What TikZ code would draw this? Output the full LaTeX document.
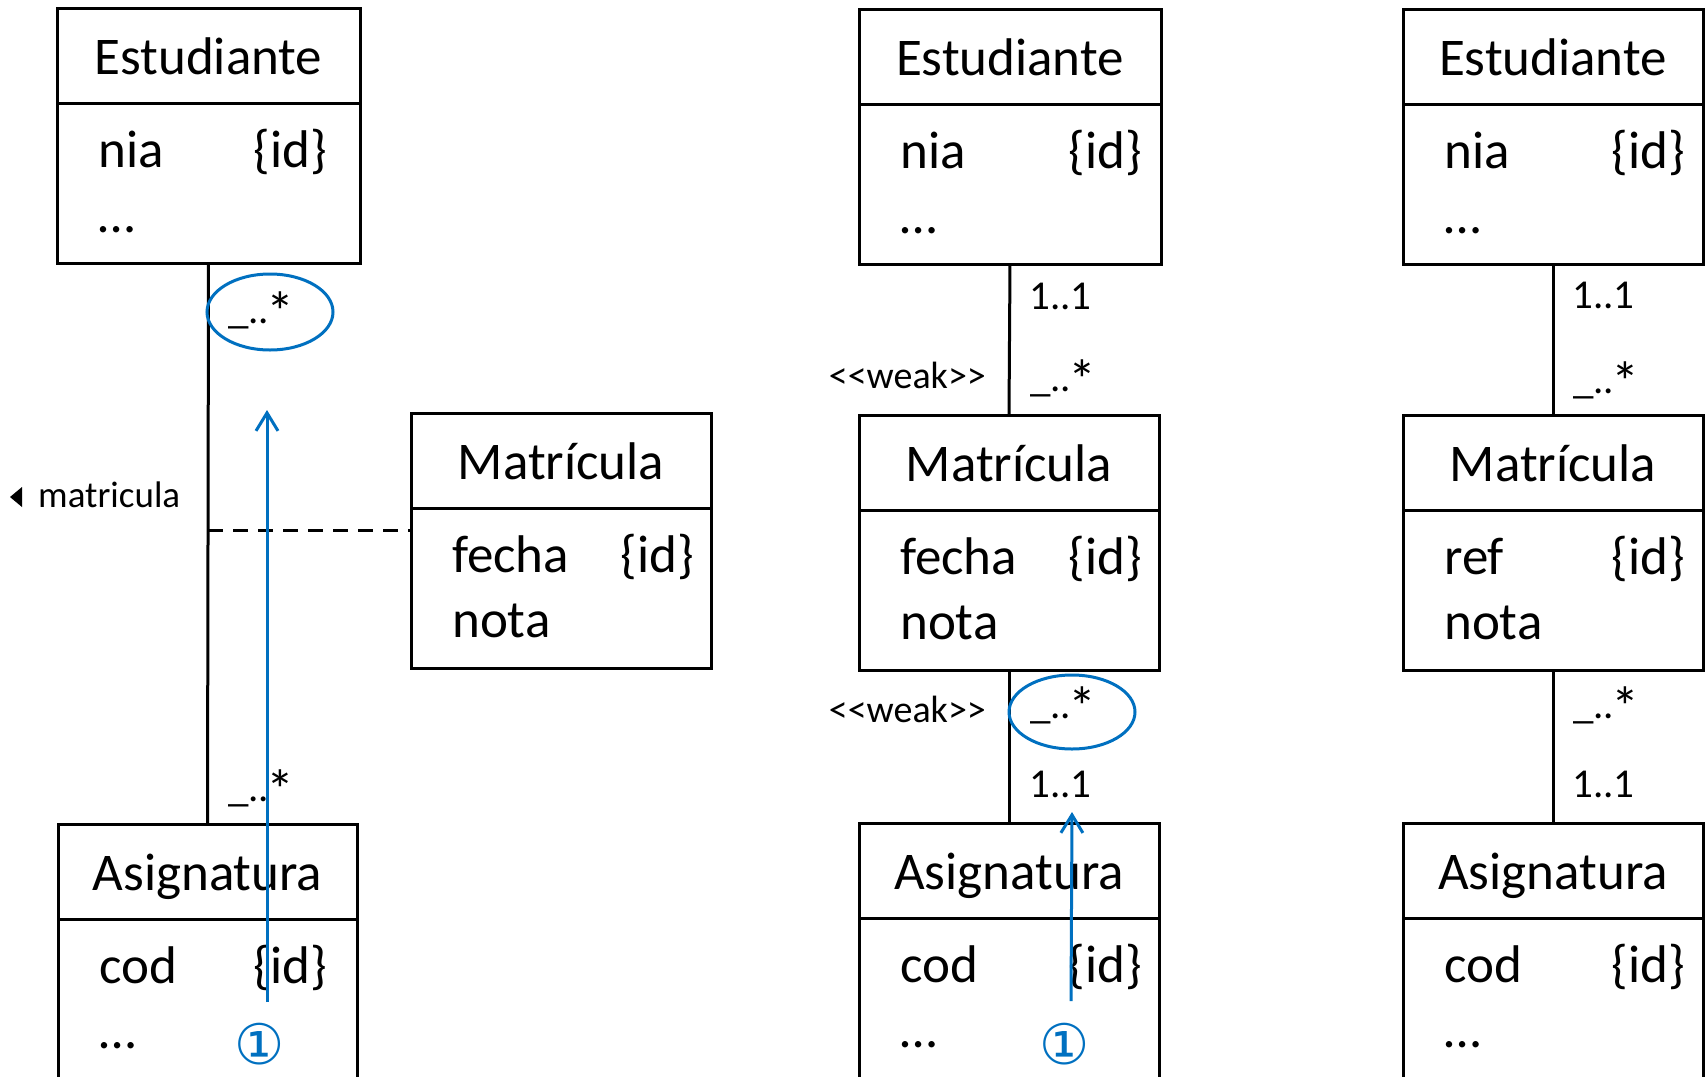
\documentclass[tikz,border=0pt]{standalone}
\usepackage{fontspec}
\setmainfont{Carlito}
\newfontfamily\dejavu{DejaVu Sans}
\usetikzlibrary{calc,arrows.meta,shapes.geometric}
\definecolor{umlblue}{RGB}{0,112,192}
\tikzset{
  hdr/.style={draw, line width=3pt, rectangle, inner sep=0pt, outer sep=0pt, minimum height=95pt,
    font=\fontsize{53}{60}\selectfont, text height=40pt, text depth=3pt},
  bodybox/.style={draw, line width=3pt, rectangle, inner sep=0pt, outer sep=0pt},
  attr/.style={inner sep=0pt, font=\fontsize{53}{60}\selectfont},
  mult/.style={inner sep=0pt, anchor=base west, font=\fontsize{41}{46}\selectfont},
  stereo/.style={inner sep=0pt, anchor=base east, font=\fontsize{38}{44}\selectfont},
  assoc/.style={line width=3pt},
  hlell/.style={draw=umlblue, line width=3pt, ellipse, inner sep=0pt},
  hlarrow/.style={draw=umlblue, line width=3pt, -{Straight Barb[length=18pt,width=22pt]}},
  circnum/.style={inner sep=0pt, anchor=base, text height=34pt, text depth=0pt, text=umlblue,
    font=\dejavu\fontsize{56}{60}\selectfont},
}
\newcommand\manyb{\_..\kern-3pt\raisebox{-8pt}{\fontsize{56}{60}\selectfont *}}
% #1 name, #2 x, #3 y, #4 width, #5 title, #6 attr1, #7 attr2, #8 body height, #9 id inset
\newcommand\classbox[9]{%
  \node[hdr, minimum width=#4pt, anchor=north west] (#1h) at (#2,#3) {#5};
  \node[bodybox, minimum width=#4pt, minimum height=#8pt, anchor=north] (#1b) at (#1h.south) {};
  \node[attr, anchor=base west] (#1a) at ($(#1b.north west)+(41,64)$) {#6};
  \node[attr, anchor=base east] (#1i) at ($(#1b.north east)+(-#9,64)$) {\{id\}};
  \node[attr, anchor=base west] (#1c) at ($(#1b.north west)+(41,129)$) {#7};
}
\begin{document}
\begin{tikzpicture}[x=1pt,y=-1pt]
\useasboundingbox (0,0) rectangle (1705,1076);
% left column
\classbox{ea}{57}{8}{303}{Estudiante}{nia}{…}{160}{33}
\classbox{ma}{411}{413}{300}{Matrícula}{fecha}{nota}{160}{17}
\classbox{aa}{58}{824}{299}{Asignatura}{cod}{…}{220}{30}
% middle column
\classbox{eb}{859}{9}{302}{Estudiante}{nia}{…}{160}{19}
\classbox{mb}{859}{415}{300}{Matrícula}{fecha}{nota}{160}{17}
\classbox{ab}{859}{823}{300}{Asignatura}{cod}{…}{220}{17}
% right column
\classbox{ec}{1403}{9}{300}{Estudiante}{nia}{…}{160}{18}
\classbox{mc}{1403}{415}{300}{Matrícula}{ref}{nota}{160}{18}
\classbox{ac}{1403}{823}{300}{Asignatura}{cod}{…}{220}{18}

% associations
\draw[assoc] (eab.south) -- (aah.north);
\coordinate (dj) at (208,530);
\draw[assoc, dash pattern=on 15pt off 10pt] (dj) -- (dj -| mah.west);
\draw[assoc] (ebb.south) -- (mbh.north);
\draw[assoc] (mbb.south) -- (abh.north);
\draw[assoc] (ecb.south) -- (mch.north);
\draw[assoc] (mcb.south) -- (ach.north);

% association name
\node[inner sep=0pt, anchor=base west, font=\fontsize{37}{42}\selectfont] (aname) at (38,507) {matricula};
\fill (10,497) -- (22,487) -- (22,507) -- cycle;

% multiplicities left
\node[mult] (la1) at (228,323) {\manyb};
\node[mult] (la2) at (228,801) {\manyb};
% middle
\node[mult] (lb1) at (1029,309) {1..1};
\node[mult] (lb2) at (1030,391) {\manyb};
\node[stereo] (wb1) at (986,388) {<{}<weak>{}>};
\node[mult] (lb3) at (1030,718) {\manyb};
\node[mult] (lb4) at (1029,797) {1..1};
\node[stereo] (wb2) at (986,722) {<{}<weak>{}>};
% right
\node[mult] (lc1) at (1572,308) {1..1};
\node[mult] (lc2) at (1573,393) {\manyb};
\node[mult] (lc3) at (1573,718) {\manyb};
\node[mult] (lc4) at (1572,797) {1..1};

% highlights
\node[hlell, minimum width=126pt, minimum height=76pt] (ell1) at (270,312) {};
\node[hlell, minimum width=126pt, minimum height=74pt] (ell2) at (1072,712) {};
\coordinate (a1s) at (267,1002);
\coordinate (a1e) at (267,410);
\draw[hlarrow] (a1s) -- (a1e);
\coordinate (a2s) at (1071,1001);
\coordinate (a2e) at (1072,812);
\draw[hlarrow] (a2s) -- (a2e);
\node[circnum] (n1) at (260,1064) {①};
\node[circnum] (n2) at (1065,1064) {①};
\end{tikzpicture}
\end{document}
